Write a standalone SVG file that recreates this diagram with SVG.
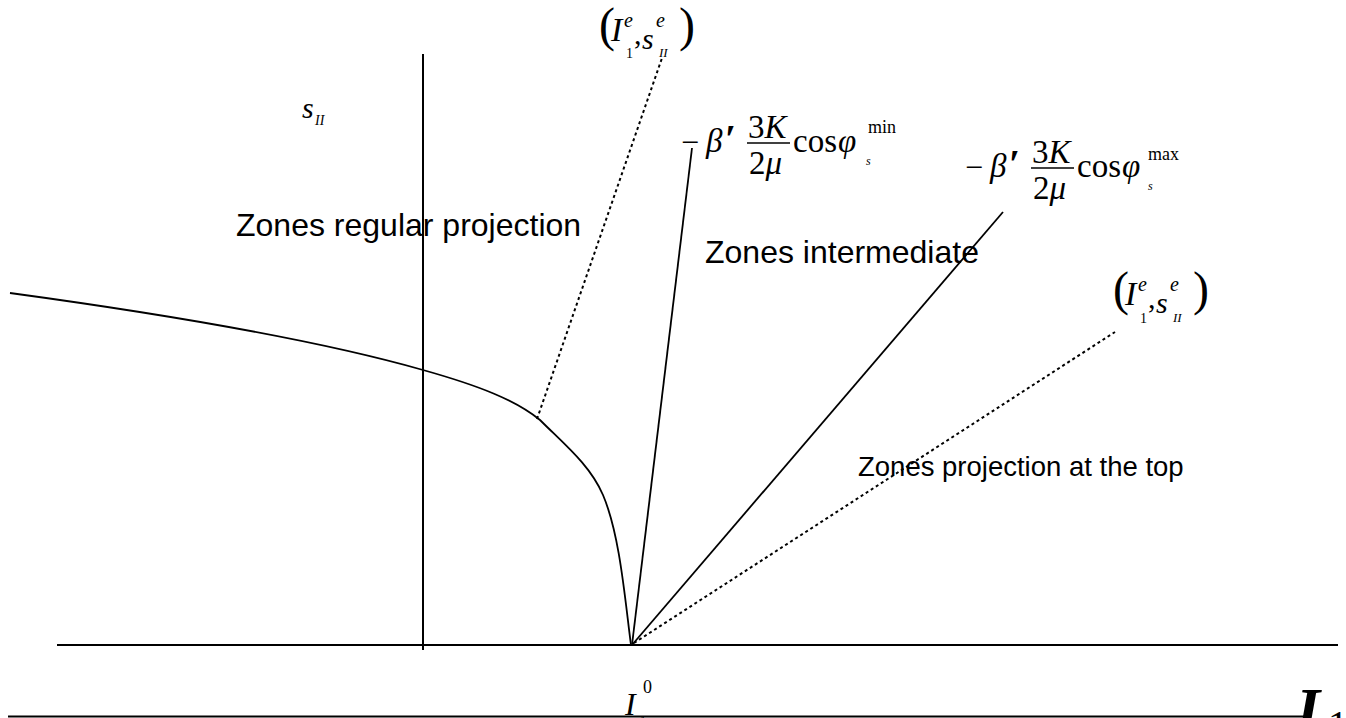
<svg xmlns="http://www.w3.org/2000/svg" width="1346" height="718" viewBox="0 0 1346 718">
<style>
.ax{stroke:#000;stroke-width:2;fill:none}
.sol{stroke:#000;stroke-width:1.8;fill:none}
.dot{stroke:#000;stroke-width:2;fill:none;stroke-dasharray:3,3}
.m{font-family:"Liberation Serif",serif;fill:#000}
.i{font-style:italic}
.lab{font-family:"Liberation Sans",Arial,sans-serif;fill:#000}
</style>
<rect width="1346" height="718" fill="#fff"/>
<g id="axes">
<line class="ax" x1="423" y1="54" x2="423" y2="650"/>
<line class="ax" x1="57" y1="645" x2="1338" y2="645"/>
<line class="ax" x1="8" y1="716.5" x2="1306" y2="716.5"/>
</g>
<g id="connectors">
<path class="sol" d="M10,293 C120,308 300,335 423,370 C480,386 515,400 540,420 C565,445 590,465 603,495 C620,535 625,600 631,645"/>
<line class="dot" x1="537" y1="419" x2="662" y2="58"/>
<line class="sol" x1="632" y1="645" x2="692" y2="148"/>
<line class="sol" x1="632" y1="645" x2="1003" y2="212"/>
<line class="dot" x1="634" y1="643" x2="1115" y2="332"/>
</g>
<g id="label-sII">
<text class="m i" x="302" y="118" font-size="30">s</text>
<text class="m i" x="315" y="125" font-size="14">II</text>
</g>
<g id="label-top-point">
<text class="m" x="599" y="41" font-size="48">(</text>
<text class="m i" x="611" y="41" font-size="34">I</text>
<text class="m i" x="624" y="27" font-size="20">e</text>
<text class="m" x="626" y="58" font-size="14">1</text>
<text class="m" x="634" y="44" font-size="30">,</text>
<text class="m i" x="642" y="49" font-size="30">s</text>
<text class="m i" x="656" y="27" font-size="20">e</text>
<text class="m i" x="659" y="57" font-size="13">II</text>
<text class="m" x="679" y="41" font-size="48">)</text>
</g>
<g id="label-right-point">
<text class="m" x="1113" y="305" font-size="48">(</text>
<text class="m i" x="1125" y="305" font-size="34">I</text>
<text class="m i" x="1138" y="291" font-size="20">e</text>
<text class="m" x="1140" y="323" font-size="14">1</text>
<text class="m" x="1148" y="308" font-size="30">,</text>
<text class="m i" x="1156" y="313" font-size="30">s</text>
<text class="m i" x="1170" y="291" font-size="20">e</text>
<text class="m i" x="1173" y="322" font-size="13">II</text>
<text class="m" x="1193" y="305" font-size="48">)</text>
</g>
<g id="formula-min">
<text class="m" x="681" y="153" font-size="32">−</text>
<text class="m i" x="706" y="152" font-size="33">β</text>
<text class="m" x="725" y="152" font-size="40" font-weight="bold">′</text>
<text class="m" x="748" y="138" font-size="33">3<tspan class="i">K</tspan></text>
<line x1="747" y1="143" x2="790" y2="143" stroke="#000" stroke-width="1.5"/>
<text class="m" x="749" y="174" font-size="33">2<tspan class="i">μ</tspan></text>
<text class="m" x="793" y="152" font-size="33">cos</text>
<text class="m i" x="838" y="152" font-size="33">φ</text>
<text class="m" x="868" y="133" font-size="18">min</text>
<text class="m i" x="866" y="165" font-size="12">s</text>
</g>
<g id="formula-max">
<text class="m" x="965" y="178" font-size="32">−</text>
<text class="m i" x="990" y="177" font-size="33">β</text>
<text class="m" x="1009" y="177" font-size="40" font-weight="bold">′</text>
<text class="m" x="1032" y="163" font-size="33">3<tspan class="i">K</tspan></text>
<line x1="1031" y1="168" x2="1074" y2="168" stroke="#000" stroke-width="1.5"/>
<text class="m" x="1033" y="199" font-size="33">2<tspan class="i">μ</tspan></text>
<text class="m" x="1077" y="177" font-size="33">cos</text>
<text class="m i" x="1122" y="177" font-size="33">φ</text>
<text class="m" x="1148" y="160" font-size="18">max</text>
<text class="m i" x="1148" y="190" font-size="12">s</text>
</g>
<g id="zone-regular"><text class="lab" x="236" y="236" font-size="32">Zones regular projection</text></g>
<g id="zone-intermediate"><text class="lab" x="705" y="263" font-size="32">Zones intermediate</text></g>
<g id="zone-top"><text class="lab" x="858" y="476" font-size="27.5">Zones projection at the top</text></g>
<g id="label-I10">
<text class="m i" x="625" y="715" font-size="32">I</text>
<text class="m" x="643" y="693" font-size="18">0</text>
<text class="m" x="640" y="724" font-size="12">1</text>
</g>
<g id="label-I1">
<text class="m i" x="1296" y="730" font-size="62" font-weight="bold">I</text>
<text class="m" x="1328" y="738" font-size="40">1</text>
</g>
</svg>
